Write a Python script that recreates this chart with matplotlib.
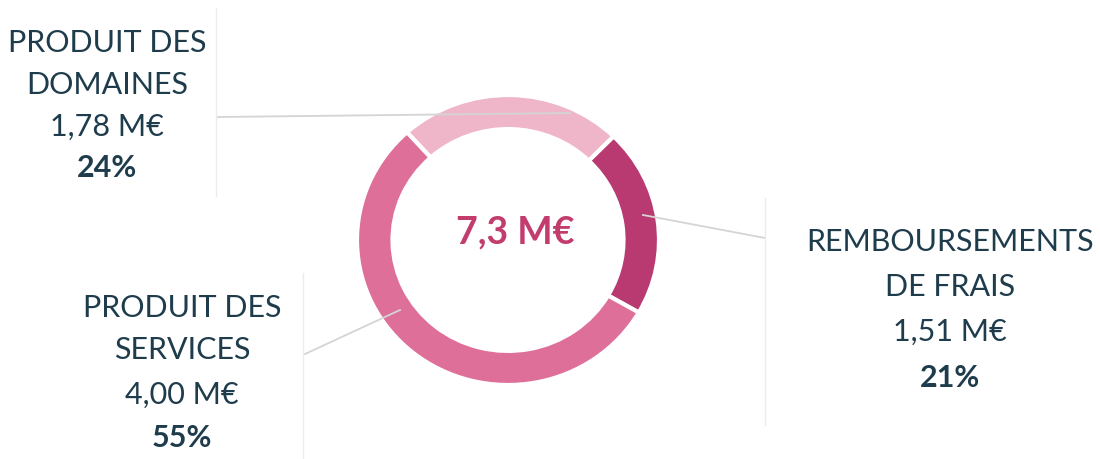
import matplotlib.pyplot as plt

# data
categories = ['PRODUIT DES\nDOMAINES', 'REMBOURSEMENTS\nDE FRAIS', 'PRODUIT DES\nSERVICES']
montants = ['1,78 M€', '1,51 M€', '4,00 M€']
parts = [24, 21, 55]
total = '7,3 M€'
colors = ['#efb6ca', '#b83a70', '#de6f99']

txt_color = '#1e3c4c'
line_color = '#d4d4d4'
plt.rcParams['font.family'] = ['Lato', 'DejaVu Sans']

fig = plt.figure(figsize=(11, 4.59), dpi=100)
W, H = 1100, 459

# donut (pixel centre 508,240, radii ~151 x 145)
cx, cy, rx, ry = 508, 240, 151, 145
pax = fig.add_axes([(cx - 1.25 * rx) / W, (H - cy - 1.25 * ry) / H,
                    2.5 * rx / W, 2.5 * ry / H])
pax.pie(parts, colors=colors, startangle=132, counterclock=False,
        wedgeprops=dict(width=0.235, edgecolor='white', linewidth=3))
pax.set_xlim(-1.25, 1.25)
pax.set_ylim(-1.25, 1.25)
pax.set_aspect('auto')
pax.axis('off')

# overlay in pixel coordinates
ax = fig.add_axes([0, 0, 1, 1])
ax.set_xlim(0, W)
ax.set_ylim(H, 0)
ax.patch.set_alpha(0)
ax.axis('off')

# leader lines + label box edges
ax.plot([218, 570], [117, 113], color=line_color, lw=1.3)
ax.plot([216, 216], [8, 196], color='#ececec', lw=1)
ax.plot([643, 765], [215, 238], color=line_color, lw=1.3)
ax.plot([765, 765], [198, 425], color='#ececec', lw=1)
ax.plot([400, 305], [310, 354], color=line_color, lw=1.3)
ax.plot([303, 303], [273, 459], color='#ececec', lw=1)

ax.text(515, 232, total, ha='center', va='center', fontsize=27,
        fontweight='bold', color='#c23c6d')

fs = 22
blocks = [(107, [43, 85, 127, 168]), (950, [242, 287, 332, 378]),
          (182, [308, 350, 395, 438])]
for (x, ys), cat, m, p in zip(blocks, categories, montants, parts):
    l1, l2 = cat.split('\n')
    ax.text(x, ys[0], l1, ha='center', va='center', fontsize=fs, color=txt_color)
    ax.text(x, ys[1], l2, ha='center', va='center', fontsize=fs, color=txt_color)
    ax.text(x, ys[2], m, ha='center', va='center', fontsize=fs, color=txt_color)
    ax.text(x, ys[3], f'{p}%', ha='center', va='center', fontsize=fs,
            fontweight='bold', color=txt_color)

fig.savefig('out.png', dpi=100)
